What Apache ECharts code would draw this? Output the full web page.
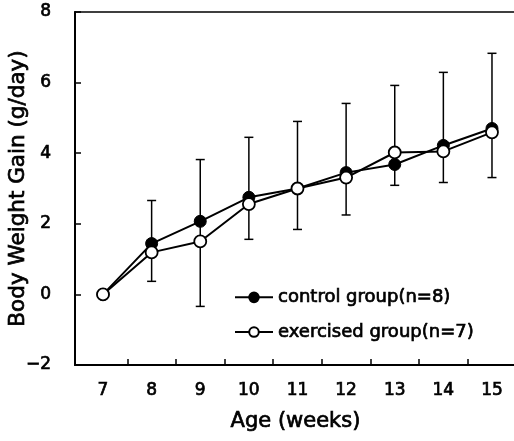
<!DOCTYPE html>
<html><head><meta charset="utf-8">
<script src="https://cdn.jsdelivr.net/npm/echarts@6/dist/echarts.min.js"></script>
<style>html,body{margin:0;padding:0;background:#fff}#c{width:514px;height:441px}</style>
</head><body><div id="c"></div>
<script>
const weeks = [7, 8, 9, 10, 11, 12, 13, 14, 15];
const control = [0, 1.44, 2.07, 2.75, 3.0, 3.45, 3.68, 4.22, 4.70];
const exercised = [0, 1.19, 1.50, 2.56, 3.0, 3.31, 4.02, 4.05, 4.59];
const errTop = [null, 2.66, 3.82, 4.45, 4.90, 5.41, 5.92, 6.29, 6.83];
const errBottom = [null, 0.37, -0.34, 1.56, 1.84, 2.25, 3.09, 3.17, 3.31];
const yTicks = [-2, 0, 2, 4, 6, 8];
const xTickMarks = [7.5, 8.5, 9.5, 10.5, 11.5, 12.5, 13.5, 14.5];

const font = 'DejaVu Sans, Arial, sans-serif';
const thick = { textBorderColor: '#000', textBorderWidth: 0.7 };
const chart = echarts.init(document.getElementById('c'));
const errData = weeks.map((w, i) => [w, errBottom[i], errTop[i]]).filter(d => d[1] != null);

chart.setOption({
  animation: false,
  backgroundColor: '#fff',
  grid: { left: 75, right: -2, top: 12, bottom: 76, show: true, borderColor: '#000', borderWidth: 1.5,
          backgroundColor: 'transparent', containLabel: false, outerBoundsMode: 'none' },
  legend: {
    orient: 'vertical', left: 229, top: 283, itemWidth: 38, itemHeight: 12, itemGap: 16,
    textStyle: Object.assign({ fontFamily: font, fontSize: 18, color: '#000' }, thick),
    data: ['control group(n=8)', 'exercised group(n=7)']
  },
  xAxis: {
    type: 'value', min: 6.424, max: 15.494,
    name: 'Age (weeks)', nameLocation: 'middle', nameGap: 46, nameMoveOverlap: false,
    nameTextStyle: Object.assign({ fontFamily: font, fontSize: 21, color: '#000' }, thick),
    axisLine: { onZero: false, lineStyle: { color: '#000', width: 2 } },
    axisTick: { inside: true, length: 6, lineStyle: { color: '#000', width: 1.5 }, customValues: xTickMarks },
    axisLabel: Object.assign({ customValues: weeks, margin: 17, fontFamily: font, fontSize: 17, color: '#000' }, thick),
    splitLine: { show: false }
  },
  yAxis: {
    type: 'value', min: -2, max: 8, interval: 2,
    name: 'Body Weight Gain (g/day)', nameLocation: 'middle', nameGap: 46, nameMoveOverlap: false,
    nameTextStyle: Object.assign({ fontFamily: font, fontSize: 21.5, color: '#000' }, thick),
    axisLine: { show: true, onZero: false, lineStyle: { color: '#000', width: 2 } },
    axisTick: { show: true, inside: true, length: 6, lineStyle: { color: '#000', width: 1.5 } },
    axisLabel: Object.assign({ margin: 24, fontFamily: font, fontSize: 17, color: '#000',
                 formatter: v => String(v).replace('-', '\u2212') }, thick),
    splitLine: { show: false }
  },
  series: [
    {
      type: 'custom', name: 'err', silent: true, z: 1,
      data: errData,
      renderItem: function (params, api) {
        const x = api.value(0);
        const lo = api.coord([x, api.value(1)]);
        const hi = api.coord([x, api.value(2)]);
        const w = 4.5;
        const st = { stroke: '#000', lineWidth: 1.5 };
        return { type: 'group', children: [
          { type: 'line', shape: { x1: lo[0], y1: lo[1], x2: hi[0], y2: hi[1] }, style: st },
          { type: 'line', shape: { x1: hi[0] - w, y1: hi[1], x2: hi[0] + w, y2: hi[1] }, style: st },
          { type: 'line', shape: { x1: lo[0] - w, y1: lo[1], x2: lo[0] + w, y2: lo[1] }, style: st }
        ]};
      }
    },
    {
      type: 'line', name: 'control group(n=8)', z: 3,
      data: weeks.map((w, i) => [w, control[i]]),
      symbol: 'circle', symbolSize: 12,
      lineStyle: { color: '#000', width: 2 },
      itemStyle: { color: '#000', borderColor: '#000', borderWidth: 1 }
    },
    {
      type: 'line', name: 'exercised group(n=7)', z: 4,
      data: weeks.map((w, i) => [w, exercised[i]]),
      symbol: 'circle', symbolSize: 12,
      lineStyle: { color: '#000', width: 2 },
      itemStyle: { color: '#fff', borderColor: '#000', borderWidth: 1.8 }
    }
  ]
});
</script></body></html>
